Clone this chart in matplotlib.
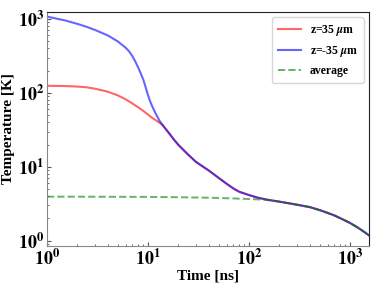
import math
import matplotlib
matplotlib.use("Agg")
import matplotlib.pyplot as plt
from matplotlib.ticker import FuncFormatter, LogLocator, NullFormatter

plt.rcParams['font.family'] = ['Liberation Serif', 'DejaVu Serif']
plt.rcParams['font.weight'] = 'bold'
plt.rcParams['mathtext.fontset'] = 'stix'

# values (time in ns, temperature in K)
t_blue = [1, 1.5, 2, 2.5, 3, 4, 5, 6, 6.5, 7, 7.5, 8, 8.5, 9, 9.5, 10, 10.5, 11,
          11.5, 12, 12.5, 13, 14, 16, 18, 20, 25, 30, 40, 50, 60, 70, 80, 100,
          120, 150, 200, 300, 400, 500, 600, 700, 800, 1000, 1200, 1400, 1540]
T_blue = [1080, 960, 860, 780, 710, 600, 500, 410, 365, 315, 265, 220, 182, 150,
          118, 93, 77, 66, 58, 51.5, 46.5, 42, 36.5, 29, 23.5, 19.8, 14.6, 11.6,
          8.9, 7.1, 5.9, 5.1, 4.6, 4.15, 3.85, 3.6, 3.38, 3.07, 2.85, 2.6, 2.38,
          2.2, 2.02, 1.74, 1.5, 1.3, 1.18]

t_red = [1, 1.5, 2, 2.5, 3, 4, 5, 6, 7, 8, 9, 10, 11, 12, 13, 14, 16, 18, 20,
         25, 30, 40, 50, 60, 70, 80, 100, 120, 150, 200, 300, 400, 500, 600, 700,
         800, 1000, 1200, 1400, 1540]
T_red = [125, 124, 122, 119, 114, 104, 93, 82, 72, 64, 57, 51, 46, 42.5, 39.5,
         36.5, 29, 23.5, 19.8, 14.6, 11.6, 8.9, 7.1, 5.9, 5.1, 4.6, 4.15, 3.85,
         3.6, 3.38, 3.07, 2.85, 2.6, 2.38, 2.2, 2.02, 1.74, 1.5, 1.3, 1.18]

t_avg = [1, 3, 10, 20, 40, 60, 80, 100, 120, 150, 200, 300, 400, 500, 600, 700,
         800, 1000, 1200, 1400, 1540]
T_avg = [3.95, 3.94, 3.92, 3.88, 3.82, 3.76, 3.71, 3.67, 3.63, 3.57, 3.38, 3.07,
         2.85, 2.6, 2.38, 2.2, 2.02, 1.74, 1.5, 1.3, 1.18]

fig = plt.figure(figsize=(3.83, 2.86), dpi=100)
ax = fig.add_axes([0.1227, 0.14, 0.8407, 0.818])

ax.plot(t_red, T_red, color='red', alpha=0.6, lw=1.5, label=r'z=35 $\mu$m')
ax.plot(t_blue, T_blue, color='blue', alpha=0.6, lw=1.5, label=r'z=-35 $\mu$m')
ax.plot(t_avg, T_avg, color='green', alpha=0.6, lw=1.4, ls='--', label='average')

ax.set_xscale('log')
ax.set_yscale('log')
ax.set_xlim(1, 1540)
ax.set_ylim(0.85, 1245)

fmt = FuncFormatter(lambda v, p: r'$\mathbf{10^{%d}}$' % round(math.log10(v)))
for axis in (ax.xaxis, ax.yaxis):
    axis.set_major_locator(LogLocator(base=10))
    axis.set_minor_locator(LogLocator(base=10, subs=range(2, 10)))
    axis.set_major_formatter(fmt)
    axis.set_minor_formatter(NullFormatter())

ax.tick_params(which='both', direction='in', top=False, right=False,
               labelsize=13, pad=2, color='#555555')
ax.tick_params(which='major', length=3)
ax.tick_params(which='minor', length=1.5)

for s in ('left', 'bottom'):
    ax.spines[s].set_color('#888888')
for s in ('top', 'right'):
    ax.spines[s].set_color('#222222')

ax.set_xlabel('Time [ns]', fontsize=11, fontweight='bold', labelpad=0)
ax.set_ylabel('Temperature [K]', fontsize=11, fontweight='bold', labelpad=2)

leg = ax.legend(loc='upper right', fontsize=8.5, frameon=True, fancybox=True,
                edgecolor='#cccccc', borderaxespad=0.45, handlelength=2.0,
                handletextpad=0.7, labelspacing=0.5, borderpad=0.5)

fig.savefig('out.png', dpi=100)
